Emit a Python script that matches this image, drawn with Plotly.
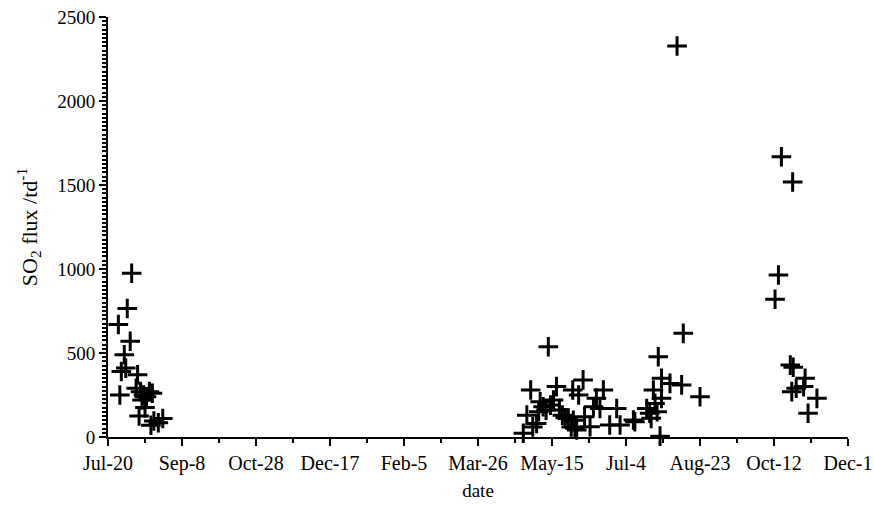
import plotly.graph_objects as go

# days since Jul-20 and SO2 flux (t/d)
days = [7, 16, 13, 15, 11, 9, 12, 8, 20, 19, 22, 24, 26, 28, 30, 23, 25, 21, 29, 34, 37, 31,
        280.6, 283, 285.6, 287, 289.6, 292, 291, 294, 296, 297.5, 299, 301, 303, 305, 307, 309,
        311, 313, 314, 315.5, 314.4, 316.7, 318, 321, 322, 325.7, 328, 330, 332.4, 334.7, 339,
        343.7, 346, 355,
        356, 364, 366, 367, 368.5, 369.6, 371, 371.8, 373, 374, 374, 379.7, 384.5, 387.6, 388.7, 400,
        450.7, 453, 455, 461, 462, 462.6, 463, 465, 470, 471, 473, 479]
flux = [670, 975, 765, 570, 490, 390, 410, 250, 370, 290, 270, 250, 240, 270, 260, 220, 175, 125, 70, 85, 110, 95,
        22, 130, 280, 60, 80, 210, 150, 180, 160, 537, 190, 220, 300, 160, 130, 115,
        113, 60, 280, 52, 100, 42, 250, 340, 121, 61, 180, 230, 170, 280, 71,
        170, 71, 101,
        91, 170, 141, 111, 280, 200, 150, 478, 5, 230, 349, 319, 2327, 310, 617, 240,
        820, 964, 1668, 428, 270, 1518, 415, 290, 300, 349, 141, 230]

tick_vals = [0, 50, 100, 150, 200, 250, 300, 350, 400, 450, 500]
tick_text = ["Jul-20", "Sep-8", "Oct-28", "Dec-17", "Feb-5", "Mar-26",
             "May-15", "Jul-4", "Aug-23", "Oct-12", "Dec-1"]
y_ticks = [0, 500, 1000, 1500, 2000, 2500]

font = "Liberation Serif, Times New Roman, serif"

fig = go.Figure(go.Scatter(
    x=days, y=flux, mode="markers",
    marker=dict(symbol="cross-thin", size=14, color="black",
                line=dict(color="black", width=3)),
    cliponaxis=False, showlegend=False, hoverinfo="skip"))

fig.update_layout(
    width=874, height=505,
    margin=dict(l=108, r=26, t=17, b=68),
    paper_bgcolor="white", plot_bgcolor="white",
    font=dict(family=font, size=20, color="black"),
    xaxis=dict(range=[0, 500], tickvals=tick_vals, ticktext=tick_text, automargin=False,
               ticklabeloverflow="allow",
               showgrid=False, zeroline=False, showline=True, linecolor="black", linewidth=2,
               ticks="outside", ticklen=7, tickwidth=2, tickcolor="black",
               minor=dict(tickvals=[25, 75, 125, 175, 225, 275, 325, 375, 425, 475],
                          ticks="outside", ticklen=4, tickwidth=1.5, tickcolor="black"),
               title=dict(text="date", font=dict(size=19), standoff=10),
               tickfont=dict(size=20)),
    yaxis=dict(range=[0, 2500], tickvals=y_ticks, automargin=False,
               ticklabeloverflow="allow",
               showgrid=False, zeroline=False, showline=True, linecolor="black", linewidth=2,
               ticks="outside", ticklen=7, tickwidth=2, tickcolor="black",
               minor=dict(dtick=25, ticks="outside", ticklen=4, tickwidth=1.5, tickcolor="black"),
               title=dict(text="SO<sub>2</sub> flux /td<sup>-1</sup>", font=dict(size=22), standoff=14),
               tickfont=dict(size=19)),
)

fig.write_html("out.html", config={"displayModeBar": False},
               post_script="document.body.style.margin='0';document.body.style.overflow='hidden';")
